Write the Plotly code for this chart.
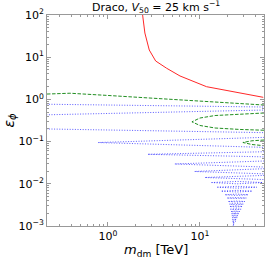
import plotly.graph_objects as go
import numpy as np

# ---------------- data ----------------
# red solid curve
red_m = [2.38, 2.52, 2.81, 3.30, 4.35, 6.07, 11.8, 22.9, 48.8]
red_eps = [100.0, 37.4, 14.8, 8.13, 5.46, 3.59, 2.00, 1.52, 1.12]

# green dashed contours
green_top_m = [0.217, 0.386, 1.0, 2.86, 6.87, 49.7]
green_top_eps = [1.34, 1.40, 1.24, 1.08, 0.93, 0.736]
green_loop1_m = [49.7, 27.2, 14.6, 10.0, 8.18, 10.0, 14.6, 27.2, 49.7]
green_loop1_eps = [0.476, 0.451, 0.415, 0.362, 0.294, 0.241, 0.210, 0.194, 0.186]
green_loop2_m = [49.7, 36.7, 29.3, 36.7, 49.7]
green_loop2_eps = [0.109, 0.1045, 0.0953, 0.0853, 0.080]

# blue dotted contours: long lines crossing the whole panel
blue_line_m = [0.2, 50.0]
blue_line0_eps = [0.77, 0.66]
blue_line1u_eps = [0.43, 0.56]
blue_line1d_eps = [0.20, 0.163]

# blue dotted resonance loops: left tip, right end, branch eps (upper / lower)
blue_tip_m = [0.78, 2.7, 5.3, 8.7, 11.3, 13.4, 15.5, 17.3, 18.8, 19.8, 20.4, 20.9,
              21.2, 21.5, 21.8, 22.0, 22.2, 22.4, 22.6, 22.7, 22.8, 22.9, 23.0]
blue_tip_eps = [0.095, 0.050, 0.0295, 0.0196, 0.0141, 0.0107, 0.0083, 0.0067, 0.0055,
                0.0046, 0.0038, 0.0033, 0.0029, 0.0025, 0.0022, 0.00196, 0.00175,
                0.00158, 0.00143, 0.0013, 0.00119, 0.00109, 0.00101]
blue_end_m = [50, 50, 50, 50, 50, 48, 41.5, 37, 33.5, 32, 30.8, 29.8,
              29.0, 28.0, 27.2, 26.6, 26.0, 25.5, 25.0, 24.5, 24.0, 23.5, 23.2]
blue_up_eps = [0.126, 0.0575, 0.0347, 0.0228, 0.0158, 0.0114, 0.0087, 0.0070, 0.0057,
               0.0047, 0.0039, 0.0034, 0.00298, 0.00256, 0.00225, 0.00200, 0.00179,
               0.00161, 0.00146, 0.00132, 0.00121, 0.00110, 0.00102]
blue_dn_eps = [0.073, 0.0435, 0.025, 0.0172, 0.0126, 0.0100, 0.0079, 0.0064, 0.0053,
               0.0045, 0.0037, 0.0032, 0.00282, 0.00244, 0.00215, 0.00192, 0.00171,
               0.00155, 0.00140, 0.00128, 0.00117, 0.00108, 0.00100]
blue_closed = [False] * 5 + [True] * 18

# axis ticks
x_tick_vals = [1, 10]
x_tick_text = ["10<sup>0</sup>", "10<sup>1</sup>"]
y_tick_vals = [1e-3, 1e-2, 1e-1, 1, 10, 100]
y_tick_text = ["10<sup>\u22123</sup>", "10<sup>\u22122</sup>", "10<sup>\u22121</sup>",
               "10<sup>0</sup>", "10<sup>1</sup>", "10<sup>2</sup>"]

# ---------------- figure ----------------
RED = "rgb(255,40,40)"
GREEN = "rgba(10,130,10,0.9)"
BLUE = "rgba(20,20,255,0.7)"
DOT = "1px,1.6px"
DASH = "3.5px,1.6px"

fig = go.Figure()

# blue loops as one trace with gaps
bx, by = [], []
for tm, te, em, ue, de, cl in zip(blue_tip_m, blue_tip_eps, blue_end_m,
                                  blue_up_eps, blue_dn_eps, blue_closed):
    if cl:
        mid = (tm * em) ** 0.5
        bx += [tm, mid, em, mid, tm, None]
        by += [te, ue, te, de, te, None]
    else:
        bx += [em, tm, em, None]
        by += [ue, te, de, None]
for ys in (blue_line0_eps, blue_line1u_eps, blue_line1d_eps):
    bx += blue_line_m + [None]
    by += ys + [None]
fig.add_trace(go.Scatter(x=bx, y=by, mode="lines",
                         line=dict(color=BLUE, width=1, dash=DOT),
                         hoverinfo="skip", showlegend=False))

for xs, ys in ((green_top_m, green_top_eps), (green_loop1_m, green_loop1_eps),
               (green_loop2_m, green_loop2_eps)):
    fig.add_trace(go.Scatter(x=xs, y=ys, mode="lines",
                             line=dict(color=GREEN, width=1, dash=DASH),
                             hoverinfo="skip", showlegend=False))

fig.add_trace(go.Scatter(x=red_m, y=red_eps, mode="lines",
                         line=dict(color=RED, width=1),
                         hoverinfo="skip", showlegend=False))

x_minor = [d * 10 ** k for k in (-1, 0, 1) for d in range(2, 10)]
y_minor = [d * 10 ** k for k in (-3, -2, -1, 0, 1) for d in range(2, 10)]

axis_common = dict(
    type="log", showgrid=False, zeroline=False,
    showline=True, linecolor="#999999", linewidth=1, mirror="allticks",
    ticks="inside", ticklen=4, tickwidth=1, tickcolor="#999999",
    tickfont=dict(family="DejaVu Sans", size=11, color="black"),
)

fig.update_xaxes(**axis_common, range=[np.log10(0.2173), np.log10(49.7)],
                 tickvals=x_tick_vals, ticktext=x_tick_text,
                 minor=dict(tickvals=x_minor, ticks="inside", ticklen=2,
                            tickcolor="#999999", showgrid=False))
fig.update_yaxes(**axis_common, range=[-3, 2],
                 tickvals=y_tick_vals, ticktext=y_tick_text,
                 minor=dict(tickvals=y_minor, ticks="inside", ticklen=2,
                            tickcolor="#999999", showgrid=False))

fig.update_layout(
    width=267, height=260, autosize=False,
    margin=dict(l=47, r=3, t=15, b=34),
    plot_bgcolor="white", paper_bgcolor="white",
    font=dict(family="DejaVu Sans", color="black"),
    annotations=[
        dict(text="Draco, <i>V</i><sub>50</sub> = 25 km s<sup>\u22121</sup>",
             xref="paper", yref="paper", x=0.5, y=1.0, yshift=-2,
             xanchor="center", yanchor="bottom", showarrow=False,
             font=dict(size=11)),
        dict(text="<i>m</i><sub>dm</sub> [TeV]",
             xref="paper", yref="paper", x=0.5, y=0, yshift=-14,
             xanchor="center", yanchor="top", showarrow=False,
             font=dict(size=13)),
        dict(text="<i>\u03b5</i><sub><i>\u03d5</i></sub>",
             xref="paper", yref="paper", x=0, xshift=-27, y=0.5,
             xanchor="right", yanchor="middle", showarrow=False,
             textangle=-90, font=dict(size=14)),
    ],
)

fig.write_html("out.html",
               config={"displayModeBar": False},
               post_script="document.body.style.margin='0';"
                           "document.body.style.overflow='hidden';")
